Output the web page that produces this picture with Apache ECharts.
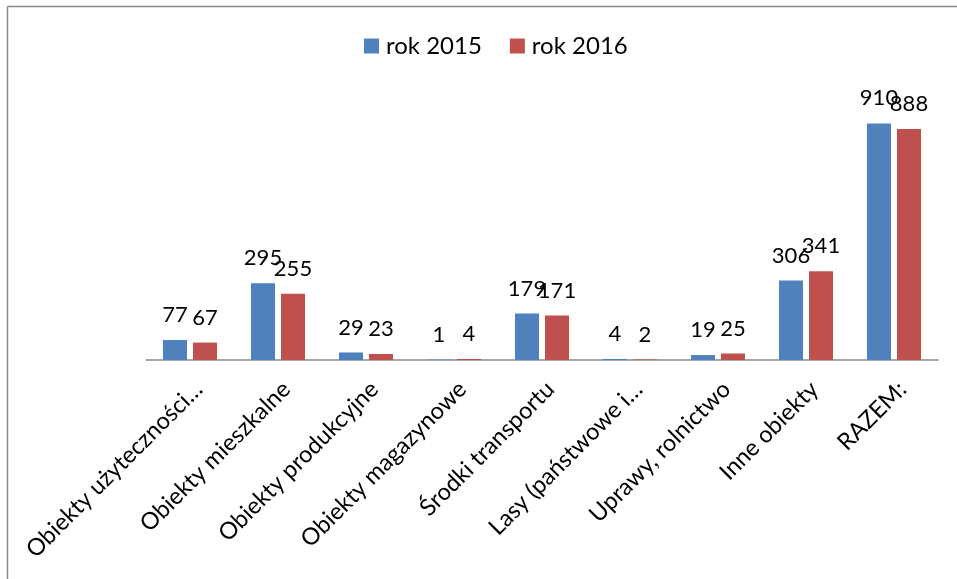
<!DOCTYPE html>
<html>
<head>
<meta charset="utf-8">
<script src="https://cdn.jsdelivr.net/npm/echarts@6/dist/echarts.min.js"></script>
<style>
html,body{margin:0;padding:0;background:#fff;}
#c{width:957px;height:579px;}
</style>
</head>
<body>
<div id="c"></div>
<script>
const categories = ['Obiekty użyteczności…','Obiekty mieszkalne','Obiekty produkcyjne','Obiekty magazynowe','Środki transportu','Lasy (państwowe i…','Uprawy, rolnictwo','Inne obiekty','RAZEM:'];
const seriesNames = ['rok 2015','rok 2016'];
const values2015 = [77,295,29,1,179,4,19,306,910];
const values2016 = [67,255,23,4,171,2,25,341,888];

const FONT = 'Lato';
const chart = echarts.init(document.getElementById('c'), null, {renderer:'canvas'});
const labelCfg = {show:true, position:'top', distance:14, color:'#000', fontFamily:FONT, fontSize:22};
chart.setOption({
  animation:false,
  backgroundColor:'#fff',
  graphic:[
    {type:'line', shape:{x1:7.5,y1:6.5,x2:957,y2:6.5}, style:{stroke:'#888',lineWidth:1.5}, silent:true},
    {type:'line', shape:{x1:7.5,y1:6.5,x2:7.5,y2:579}, style:{stroke:'#888',lineWidth:1.5}, silent:true}
  ],
  legend:{
    data:seriesNames,
    left:359, top:29,
    itemWidth:15, itemHeight:15, itemGap:28,
    icon:'rect',
    textStyle:{color:'#000', fontFamily:FONT, fontSize:24, padding:[0,0,0,2]}
  },
  grid:{left:146, right:19, top:100, bottom:219, containLabel:false},
  xAxis:{
    type:'category',
    data:categories,
    axisLine:{show:true, lineStyle:{color:'#888', width:1.5}},
    axisTick:{show:false},
    axisLabel:{rotate:45, interval:0, color:'#000', fontFamily:FONT, fontSize:23.5, margin:17, verticalAlign:'top'}
  },
  yAxis:{
    type:'value', min:0, max:1000,
    show:false,
    splitLine:{show:false}
  },
  series:[
    {name:seriesNames[0], type:'bar', data:values2015, barWidth:24, barGap:'25%', itemStyle:{color:'#4F81BD'}, label:labelCfg},
    {name:seriesNames[1], type:'bar', data:values2016, barWidth:24, barGap:'25%', itemStyle:{color:'#C0504D'}, label:labelCfg}
  ]
});
</script>
</body>
</html>
